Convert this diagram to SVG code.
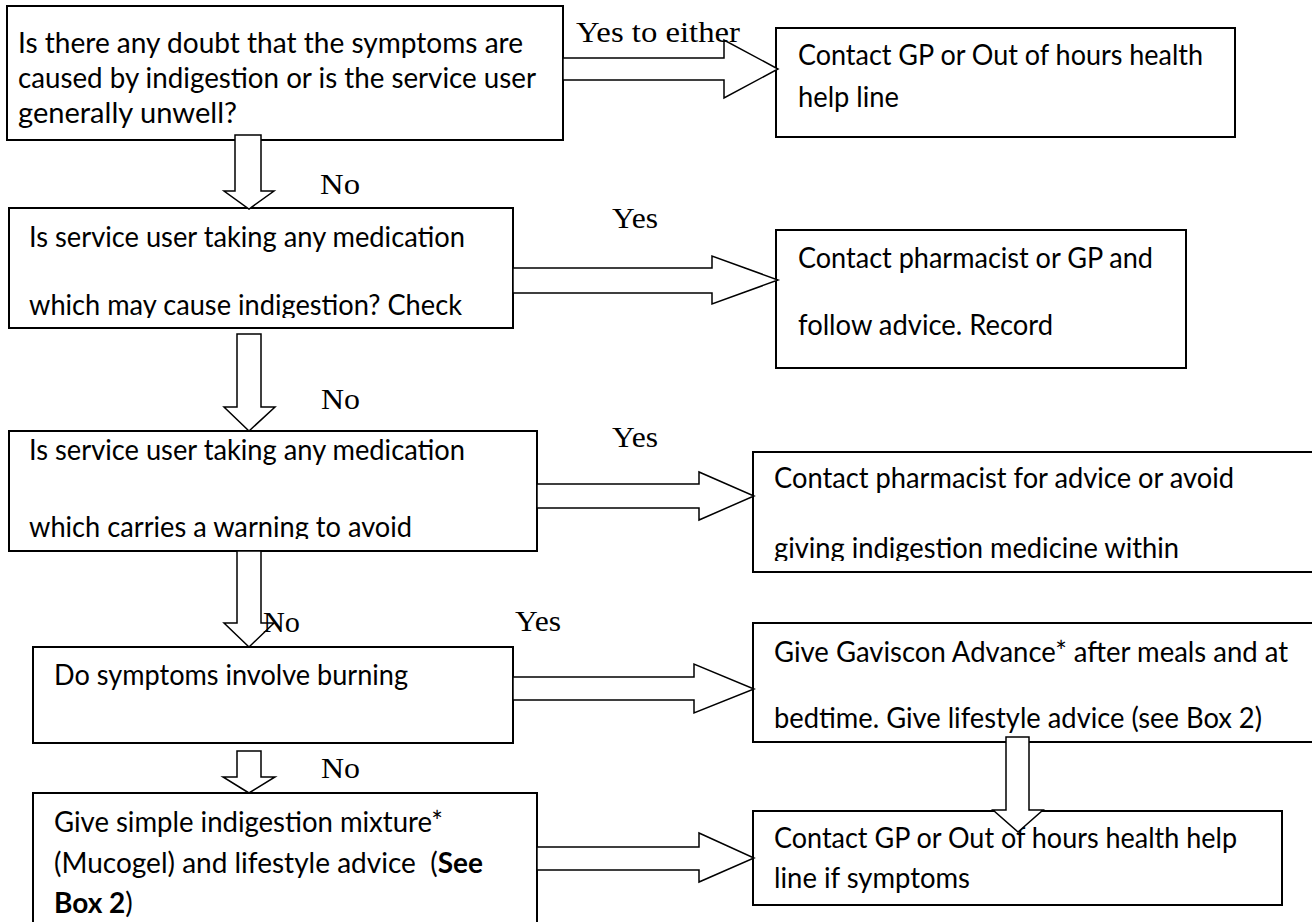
<svg xmlns="http://www.w3.org/2000/svg" width="1312" height="922" viewBox="0 0 1312 922">
  <style>
    .box { fill: #ffffff; stroke: #000000; stroke-width: 2; }
    .arrow { fill: #ffffff; stroke: #000000; stroke-width: 1.5; stroke-linejoin: miter; }
    .t { font-family: "Lato", "Liberation Sans", sans-serif; font-size: 28px; fill: #000000; }
    .b { font-weight: bold; }
    .lbl { font-family: "Liberation Serif", "Times New Roman", serif; font-size: 29px; fill: #000000; }
  </style>
  <defs>
    <clipPath id="clip-n1"><rect x="7" y="6" width="556" height="122"/></clipPath>
    <clipPath id="clip-n2"><rect x="9" y="208" width="504" height="110"/></clipPath>
    <clipPath id="clip-n3"><rect x="9" y="431" width="528" height="108"/></clipPath>
    <clipPath id="clip-r3"><rect x="753" y="452" width="600" height="109"/></clipPath>
  </defs>

  <!-- left column: questions -->
  <g id="n1">
    <rect class="box" x="7" y="6" width="556" height="134"/>
    <g clip-path="url(#clip-n1)">
      <text class="t" x="18" y="53" textLength="505" lengthAdjust="spacingAndGlyphs">Is there any doubt that the symptoms are</text>
      <text class="t" x="18" y="88" textLength="518" lengthAdjust="spacingAndGlyphs">caused by indigestion or is the service user</text>
      <text class="t" x="18" y="123" textLength="219" lengthAdjust="spacingAndGlyphs">generally unwell?</text>
    </g>
  </g>

  <g id="n2">
    <rect class="box" x="9" y="208" width="504" height="120"/>
    <g clip-path="url(#clip-n2)">
      <text class="t" x="29" y="247" textLength="436" lengthAdjust="spacingAndGlyphs">Is service user taking any medication</text>
      <text class="t" x="29" y="315" textLength="433" lengthAdjust="spacingAndGlyphs">which may cause indigestion? Check</text>
    </g>
  </g>

  <g id="n3">
    <rect class="box" x="9" y="431" width="528" height="120"/>
    <g clip-path="url(#clip-n3)">
      <text class="t" x="29" y="460" textLength="436" lengthAdjust="spacingAndGlyphs">Is service user taking any medication</text>
      <text class="t" x="29" y="537" textLength="383" lengthAdjust="spacingAndGlyphs">which carries a warning to avoid</text>
    </g>
  </g>

  <g id="n4">
    <rect class="box" x="33" y="647" width="480" height="96"/>
    <text class="t" x="54" y="685" textLength="354" lengthAdjust="spacingAndGlyphs">Do symptoms involve burning</text>
  </g>

  <g id="n5">
    <rect class="box" x="33" y="793" width="504" height="140"/>
    <text class="t" x="54" y="832" textLength="389" lengthAdjust="spacingAndGlyphs">Give simple indigestion mixture*</text>
    <text class="t" x="54" y="873" xml:space="preserve">(Mucogel) and lifestyle advice  (<tspan class="b">See</tspan></text>
    <text class="t" x="54" y="913"><tspan class="b">Box 2</tspan>)</text>
  </g>

  <!-- right column: actions -->
  <g id="r1">
    <rect class="box" x="776" y="28" width="459" height="109"/>
    <text class="t" x="798" y="65" textLength="405" lengthAdjust="spacingAndGlyphs">Contact GP or Out of hours health</text>
    <text class="t" x="798" y="107" textLength="101" lengthAdjust="spacingAndGlyphs">help line</text>
  </g>

  <g id="r2">
    <rect class="box" x="776" y="230" width="410" height="138"/>
    <text class="t" x="798" y="268" textLength="355" lengthAdjust="spacingAndGlyphs">Contact pharmacist or GP and</text>
    <text class="t" x="798" y="335" textLength="255" lengthAdjust="spacingAndGlyphs">follow advice. Record</text>
  </g>

  <g id="r3">
    <rect class="box" x="753" y="452" width="600" height="120"/>
    <g clip-path="url(#clip-r3)">
      <text class="t" x="774" y="488" textLength="460" lengthAdjust="spacingAndGlyphs">Contact pharmacist for advice or avoid</text>
      <text class="t" x="774" y="558" textLength="405" lengthAdjust="spacingAndGlyphs">giving indigestion medicine within</text>
    </g>
  </g>

  <g id="r4">
    <rect class="box" x="753" y="623" width="600" height="119"/>
    <text class="t" x="774" y="662" textLength="514" lengthAdjust="spacingAndGlyphs">Give Gaviscon Advance* after meals and at</text>
    <text class="t" x="774" y="728" textLength="488" lengthAdjust="spacingAndGlyphs">bedtime. Give lifestyle advice (see Box 2)</text>
  </g>

  <g id="r5">
    <rect class="box" x="753" y="811" width="529" height="94"/>
    <text class="t" x="774" y="848" textLength="463" lengthAdjust="spacingAndGlyphs">Contact GP or Out of hours health help</text>
    <text class="t" x="774" y="888" textLength="196" lengthAdjust="spacingAndGlyphs">line if symptoms</text>
  </g>

  <!-- block arrows and their labels -->
  <g id="connectors">
    <!-- Yes branches (rightward) -->
    <polygon class="arrow" points="563,58 724,58 724,40 778,69 724,98 724,80 563,80"/>
    <polygon class="arrow" points="513,268 712,268 712,256 778,280 712,304 712,293 513,293"/>
    <polygon class="arrow" points="537,484 699,484 699,472 754,496 699,520 699,508 537,508"/>
    <polygon class="arrow" points="513,677 694,677 694,664 754,689 694,713 694,700 513,700"/>
    <polygon class="arrow" points="537,847 699,847 699,833 754,858 699,882 699,870 537,870"/>

    <!-- No branches (downward) -->
    <polygon class="arrow" points="235,135 261,135 261,191 274,191 249,209 224,191 235,191"/>
    <polygon class="arrow" points="237,334 261,334 261,407 275,407 249,431 224,407 237,407"/>
    <polygon class="arrow" points="237,551 261,551 261,623 274,623 249,647 224,623 237,623"/>
    <polygon class="arrow" points="237,751 261,751 261,777 275,777 249,793 223,777 237,777"/>

    <!-- from Gaviscon advice down to GP contact -->
    <polygon class="arrow" points="1006,737 1029,737 1029,810 1043,810 1018,832 993,810 1006,810"/>

    <text class="lbl" x="576" y="42" textLength="164" lengthAdjust="spacingAndGlyphs">Yes to either</text>
    <text class="lbl" x="320" y="194" textLength="40" lengthAdjust="spacingAndGlyphs">No</text>
    <text class="lbl" x="612" y="228" textLength="46" lengthAdjust="spacingAndGlyphs">Yes</text>
    <text class="lbl" x="321" y="409" textLength="39" lengthAdjust="spacingAndGlyphs">No</text>
    <text class="lbl" x="612" y="447" textLength="46" lengthAdjust="spacingAndGlyphs">Yes</text>
    <text class="lbl" x="263" y="632" textLength="37" lengthAdjust="spacingAndGlyphs">No</text>
    <text class="lbl" x="515" y="631" textLength="46" lengthAdjust="spacingAndGlyphs">Yes</text>
    <text class="lbl" x="321" y="778" textLength="39" lengthAdjust="spacingAndGlyphs">No</text>
  </g>
</svg>
